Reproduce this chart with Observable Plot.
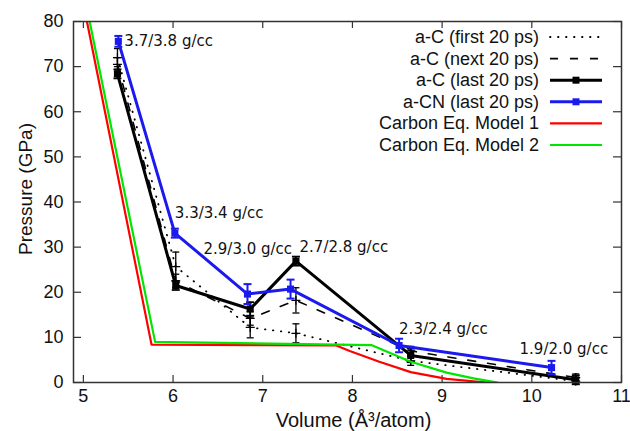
<!DOCTYPE html>
<html>
<head>
<meta charset="utf-8">
<script src="https://cdn.jsdelivr.net/npm/d3@7"></script>
<script src="https://cdn.jsdelivr.net/npm/@observablehq/plot@0.6"></script>
<style>
  html, body { margin: 0; padding: 0; background: #fff; }
  #wrap { position: relative; width: 630px; height: 431px; }
  #legend { position: absolute; left: 0; top: 0; pointer-events: none; }
</style>
</head>
<body>
<div id="wrap"></div>
<script>
// ---- data ----
const xTicks = [5, 6, 7, 8, 9, 10, 11];
const yTicks = [0, 10, 20, 30, 40, 50, 60, 70, 80];

const volC   = [5.38, 6.03, 6.86, 7.37, 8.65, 10.49];
const pFirst = [72.0, 25.7, 12.2, 10.9, 4.8, 0.3];
const eFirst = [2.0, 3.2, 2.3, 2.1, 1.0, 0.6];
const pNext  = [70.5, 22.5, 14.2, 18.2, 7.0, 1.1];
const eNext  = [1.5, 1.5, 1.5, 2.8, 1.0, 0.8];
const pLast  = [68.4, 21.5, 16.3, 26.9, 6.0, 0.6];
const eLast  = [1.0, 1.0, 1.5, 1.0, 1.5, 1.0];

const volCN = [5.39, 6.02, 6.83, 7.31, 8.52, 10.22];
const pCN   = [75.6, 33.1, 19.6, 20.7, 8.2, 3.3];
const eCN   = [1.2, 1.0, 2.2, 2.1, 1.5, 1.5];

const volM1 = [5.04, 5.76, 7.82, 7.97, 8.30, 8.65, 9.05, 9.50];
const pM1   = [80, 8.4, 8.2, 7.0, 4.6, 2.3, 0.8, 0.0];
const volM2 = [5.07, 5.80, 8.21, 8.65, 9.05, 9.35, 9.62];
const pM2   = [80, 9.0, 8.3, 4.6, 2.2, 0.9, 0.0];

const densLabels = ["3.7/3.8 g/cc", "3.3/3.4 g/cc", "2.9/3.0 g/cc", "2.7/2.8 g/cc", "2.3/2.4 g/cc", "1.9/2.0 g/cc"];

const seriesNames = ["a-C (first 20 ps)", "a-C (next 20 ps)", "a-C (last 20 ps)", "a-CN (last 20 ps)", "Carbon Eq. Model 1", "Carbon Eq. Model 2"];

const xLabel = "Volume (Å³/atom)";
const yLabel = "Pressure (GPa)";

// ---- build tables ----
const toRows = (xs, ys, es) => xs.map((x, i) => ({x, y: ys[i], e: es ? es[i] : 0}));
const first = toRows(volC, pFirst, eFirst);
const next  = toRows(volC, pNext, eNext);
const last  = toRows(volC, pLast, eLast);
const cn    = toRows(volCN, pCN, eCN);
const m1    = toRows(volM1, pM1);
const m2    = toRows(volM2, pM2);

const BLUE = "#1a1aee", RED = "#ff0000", GREEN = "#00e600";
const FONT = "Liberation Sans, Arial, sans-serif";
const W = 630, H = 431, ML = 73, MR = 9, MT = 21, MB = 49;
const IW = W - ML - MR, IH = H - MT - MB;

const hcap = {draw(ctx, size) { const r = Math.sqrt(size / Math.PI); ctx.moveTo(-r, 0); ctx.lineTo(r, 0); }};

function errMarks(rows, color, w, capR) {
  return [
    Plot.ruleX(rows, {x: "x", y1: d => d.y - d.e, y2: d => d.y + d.e, stroke: color, strokeWidth: w}),
    Plot.dot(rows, {x: "x", y: d => d.y - d.e, symbol: hcap, r: capR, stroke: color, strokeWidth: w, fill: "none"}),
    Plot.dot(rows, {x: "x", y: d => d.y + d.e, symbol: hcap, r: capR, stroke: color, strokeWidth: w, fill: "none"})
  ];
}

const labelOffsets = [[6, 0], [0, -20], [-44, -45], [9, -42], [0, -16], [-32, -18]];

const chart = Plot.plot({
  width: W, height: H,
  marginLeft: ML, marginRight: MR, marginTop: MT, marginBottom: MB,
  style: {fontFamily: FONT, fontSize: "18px", color: "#111", overflow: "visible"},
  x: {domain: [4.89, 11]},
  y: {domain: [0, 80]},
  marks: [
    Plot.axisX({ticks: xTicks, tickFormat: d => String(d), tickSize: 0, tickPadding: 7, fontSize: 18, fontFamily: FONT, label: null}),
    Plot.axisY({ticks: yTicks, tickFormat: d => String(d), tickSize: 0, tickPadding: 10, fontSize: 18, fontFamily: FONT, label: null}),
    // inward ticks on all sides
    Plot.tickX(xTicks, {x: d => d, insetTop: IH - 7, stroke: "#333", strokeWidth: 1.2}),
    Plot.tickX(xTicks, {x: d => d, insetBottom: IH - 7, stroke: "#333", strokeWidth: 1.2}),
    Plot.tickY(yTicks, {y: d => d, insetRight: IW - 8, stroke: "#333", strokeWidth: 1.2}),
    Plot.tickY(yTicks, {y: d => d, insetLeft: IW - 8, stroke: "#333", strokeWidth: 1.2}),
    // first 20 ps (dotted)
    Plot.line(first, {x: "x", y: "y", stroke: "#000", strokeWidth: 1.8, strokeDasharray: "0.5,7.5", strokeLinecap: "round", clip: true}),
    ...errMarks(first, "#000", 1.3, 3.5),
    Plot.dot(first, {x: "x", y: "y", symbol: "plus", r: 3, stroke: "#000", strokeWidth: 1.2}),
    // next 20 ps (dashed)
    Plot.line(next, {x: "x", y: "y", stroke: "#000", strokeWidth: 1.6, strokeDasharray: "8,12", clip: true}),
    ...errMarks(next, "#000", 1.3, 3.5),
    Plot.dot(next, {x: "x", y: "y", symbol: "plus", r: 3, stroke: "#000", strokeWidth: 1.2}),
    // last 20 ps
    Plot.line(last, {x: "x", y: "y", stroke: "#000", strokeWidth: 3, clip: true}),
    ...errMarks(last, "#000", 1.8, 4),
    Plot.dot(last, {x: "x", y: "y", symbol: "square", r: 4, fill: "#000"}),
    // a-CN
    Plot.line(cn, {x: "x", y: "y", stroke: BLUE, strokeWidth: 3, clip: true}),
    ...errMarks(cn, BLUE, 2, 4),
    Plot.dot(cn, {x: "x", y: "y", symbol: "square", r: 4, fill: BLUE}),
    // models
    Plot.line(m1, {x: "x", y: "y", stroke: RED, strokeWidth: 2.2, clip: true}),
    Plot.line(m2, {x: "x", y: "y", stroke: GREEN, strokeWidth: 2.2, clip: true}),
    // density labels
    ...densLabels.map((t, i) => Plot.text([i], {
      x: j => volCN[j], y: j => pCN[j], text: () => t,
      dx: labelOffsets[i][0], dy: labelOffsets[i][1],
      textAnchor: "start", fontSize: 15, fontFamily: "DejaVu Sans", fill: "#111"
    })),
    // axis titles
    Plot.text([yLabel], {text: d => d, frameAnchor: "left", textAnchor: "middle", lineAnchor: "middle", dx: -48, dy: -13, rotate: -90, fontSize: 19, fontFamily: FONT, fill: "#111"}),
    Plot.text([xLabel], {text: d => d, frameAnchor: "bottom", textAnchor: "middle", lineAnchor: "middle", dx: 6, dy: 38, fontSize: 20, fontFamily: FONT, fill: "#111"}),
    Plot.frame({stroke: "#333", strokeWidth: 1.5})
  ]
});

const wrap = document.getElementById("wrap");
wrap.appendChild(chart);

// ---- legend overlay ----
const lg = d3.select(wrap).append("svg").attr("id", "legend").attr("width", W).attr("height", H);
const rowY0 = 37, rowStep = 21.6, textX = 539, lx1 = 550, lx2 = 602;
const styles = [
  {stroke: "#000", w: 1.8, dash: "0.5,7.5", cap: "round", marker: false},
  {stroke: "#000", w: 1.6, dash: "8,12", cap: "butt", marker: false},
  {stroke: "#000", w: 3, dash: null, cap: "butt", marker: true},
  {stroke: BLUE, w: 3, dash: null, cap: "butt", marker: true},
  {stroke: RED, w: 2.2, dash: null, cap: "butt", marker: false},
  {stroke: GREEN, w: 2.2, dash: null, cap: "butt", marker: false}
];
seriesNames.forEach((name, i) => {
  const y = rowY0 + i * rowStep;
  lg.append("text").attr("x", textX).attr("y", y).attr("text-anchor", "end")
    .attr("dominant-baseline", "central")
    .attr("font-family", FONT).attr("font-size", 18).attr("fill", "#111")
    .text(name);
  const s = styles[i];
  const ln = lg.append("line").attr("x1", lx1).attr("x2", lx2).attr("y1", y).attr("y2", y)
    .attr("stroke", s.stroke).attr("stroke-width", s.w).attr("stroke-linecap", s.cap);
  if (s.dash) ln.attr("stroke-dasharray", s.dash);
  if (s.marker) {
    lg.append("rect").attr("x", (lx1 + lx2) / 2 - 3.5).attr("y", y - 3.5).attr("width", 7).attr("height", 7).attr("fill", s.stroke);
  }
});
</script>
</body>
</html>
